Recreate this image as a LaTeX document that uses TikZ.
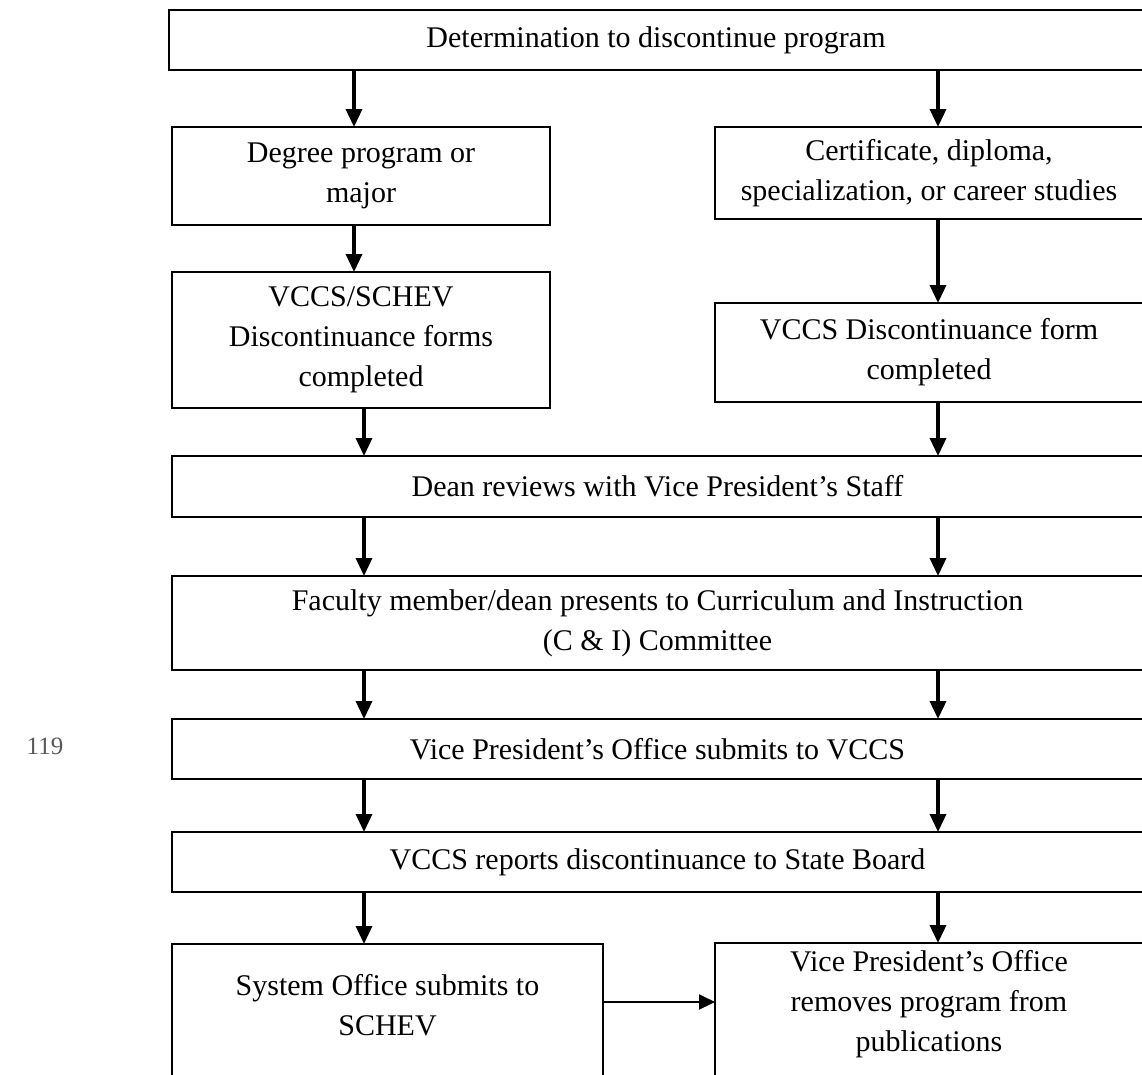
\documentclass[tikz,border=0pt]{standalone}
\usepackage{fontspec}
\setmainfont{Liberation Serif}
\usetikzlibrary{arrows.meta}
\begin{document}
\begin{tikzpicture}[x=1pt,y=-1pt,
  box/.style={draw, line width=2pt, inner sep=0pt, outer sep=0pt, anchor=north west,
    align=center, font=\fontsize{30}{40}\selectfont},
  txt/.style={inner sep=0pt, align=center, font=\fontsize{30}{40}\selectfont},
  varr/.style={line width=3.5pt, -{Triangle[length=18pt,width=16pt]}},
  harr/.style={line width=2pt, -{Triangle[length=16pt,width=15pt]}}]
\path[use as bounding box, clip] (0,0) rectangle (1142,1074);
\fill[white] (0,0) rectangle (1142,1074);

\node[box, minimum width=974pt, minimum height=60pt] (top) at (169,10) {Determination to discontinue program};
\node[box, minimum width=378pt, minimum height=98pt] (deg) at (172,127) {Degree program or\\major};
\node[box, minimum width=428pt, minimum height=92pt] (cert) at (715,127) {Certificate, diploma,\\specialization, or career studies};
\node[box, minimum width=378pt, minimum height=136pt] (vs) at (172,272) {VCCS/SCHEV\\Discontinuance forms\\completed};
\node[box, minimum width=428pt, minimum height=99pt] (vf) at (715,303) {VCCS Discontinuance form\\completed};
\node[box, minimum width=971pt, minimum height=61pt] (dean) at (172,456) {Dean reviews with Vice President’s Staff};
\node[box, minimum width=971pt, minimum height=94pt] (fac) at (172,576) {Faculty member/dean presents to Curriculum and Instruction\\(C \& I) Committee};
\node[box, minimum width=971pt, minimum height=60pt] (vp) at (172,719) {Vice President’s Office submits to VCCS};
\node[box, minimum width=971pt, minimum height=60pt] (rep) at (172,832) {VCCS reports discontinuance to State Board};
\node[box, minimum width=431pt, minimum height=150pt] (sys) at (172,944) {};
\node[box, minimum width=428pt, minimum height=150pt] (pub) at (715,943) {};
\node[txt] (systxt) at (387.5,1005) {System Office submits to\\SCHEV};
\node[txt] (pubtxt) at (929,1004) {Vice President’s Office\\removes program from\\publications};

\node[inner sep=0pt, text=black!65, font=\fontsize{25}{28}\selectfont] (pg) at (45,746) {119};

\coordinate (La) at (354,0);
\coordinate (Lb) at (364,0);
\coordinate (R) at (938,0);
\coordinate (H) at (0,1002);

\draw[varr] (top.south -| La) -- (deg.north -| La);
\draw[varr] (top.south -| R) -- (cert.north -| R);
\draw[varr] (deg.south -| La) -- (vs.north -| La);
\draw[varr] (cert.south -| R) -- (vf.north -| R);
\draw[varr] (vs.south -| Lb) -- (dean.north -| Lb);
\draw[varr] (vf.south -| R) -- (dean.north -| R);
\draw[varr] (dean.south -| Lb) -- (fac.north -| Lb);
\draw[varr] (dean.south -| R) -- (fac.north -| R);
\draw[varr] (fac.south -| Lb) -- (vp.north -| Lb);
\draw[varr] (fac.south -| R) -- (vp.north -| R);
\draw[varr] (vp.south -| Lb) -- (rep.north -| Lb);
\draw[varr] (vp.south -| R) -- (rep.north -| R);
\draw[varr] (rep.south -| Lb) -- (sys.north -| Lb);
\draw[varr] (rep.south -| R) -- (pub.north -| R);
\draw[harr] (sys.east |- H) -- (pub.west |- H);
\end{tikzpicture}
\end{document}
